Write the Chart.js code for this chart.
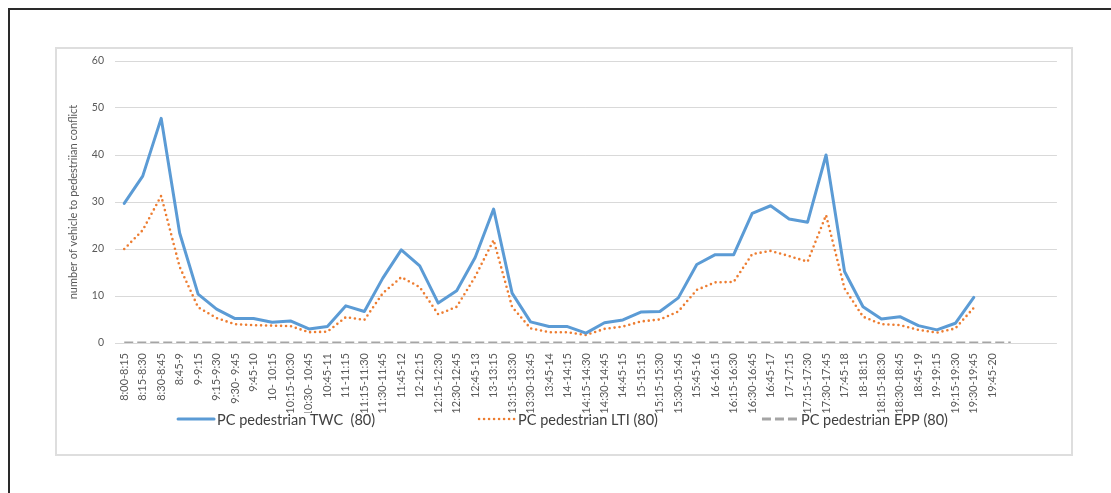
<!DOCTYPE html>
<html>
<head>
<meta charset="utf-8">
<script src="https://cdn.jsdelivr.net/npm/chart.js@4.4.1/dist/chart.umd.min.js"></script>
<style>
  html, body { margin: 0; padding: 0; background: #fff; width: 1111px; height: 493px; overflow: hidden; }
  #frame { position: absolute; left: 8px; top: 8px; right: -4px; bottom: -4px; border-left: 2px solid #2a2a2a; border-top: 2px solid #2a2a2a; }
  #box { position: absolute; left: 55px; top: 47px; width: 1014px; height: 405px; border: 2px solid #dedede; background: #fff; }
  #wrap { position: absolute; left: 0; top: 0; width: 1014px; height: 405px; }
</style>
</head>
<body>
<div id="frame"></div>
<div id="box"><div id="wrap"><canvas id="c"></canvas></div></div>
<script>
// Quarter-hour intervals from 8:00 to 20:00
const timeSlots = [
  '8:00-8:15', '8:15-8:30', '8:30-8:45', '8:45-9', '9-9:15', '9:15-9:30', '9:30- 9:45', '9:45-10',
  '10- 10:15', '10:15-10:30', '10:30- 10:45', '10:45-11', '11-11:15', '11:15-11:30', '11:30-11:45', '11:45-12',
  '12-12:15', '12:15-12:30', '12:30-12:45', '12:45-13', '13-13:15', '13:15-13:30', '13:30-13:45', '13:45-14',
  '14-14:15', '14:15-14:30', '14:30-14:45', '14:45-15', '15-15:15', '15:15-15:30', '15:30-15:45', '15:45-16',
  '16-16:15', '16:15-16:30', '16:30-16:45', '16:45-17', '17-17:15', '17:15-17:30', '17:30-17:45', '17:45-18',
  '18-18:15', '18:15-18:30', '18:30-18:45', '18:45-19', '19-19:15', '19:15-19:30', '19:30-19:45', '19:45-20'
];
// Unlabelled slots that pad the end of the category axis
const blankSlots = ['', '', ''];

// Vehicle-to-pedestrian conflicts per interval
const twcValues = [
  29.7, 35.5, 47.8, 23.4, 10.4, 7.2, 5.2, 5.2,
  4.4, 4.7, 3.0, 3.5, 7.9, 6.7, 13.8, 19.8,
  16.4, 8.5, 11.1, 18.2, 28.5, 10.6, 4.5, 3.5,
  3.5, 2.1, 4.3, 4.9, 6.6, 6.7, 9.6, 16.7,
  18.8, 18.8, 27.6, 29.2, 26.4, 25.7, 40.0, 15.2,
  7.7, 5.1, 5.6, 3.7, 2.8, 4.2, 9.7, null
];
const ltiValues = [
  20.0, 24.0, 31.3, 16.2, 7.6, 5.3, 4.0, 3.8,
  3.7, 3.6, 2.3, 2.4, 5.5, 4.9, 10.6, 14.0,
  11.9, 6.1, 7.7, 14.1, 21.9, 7.7, 3.1, 2.3,
  2.3, 1.7, 3.0, 3.5, 4.6, 5.0, 6.7, 11.3,
  12.9, 13.0, 18.9, 19.6, 18.5, 17.3, 27.2, 11.6,
  5.6, 4.0, 3.8, 2.8, 2.2, 3.1, 7.5, null
];
const eppValues = [
  0, 0, 0, 0, 0, 0, 0, 0, 0, 0, 0, 0, 0, 0, 0, 0,
  0, 0, 0, 0, 0, 0, 0, 0, 0, 0, 0, 0, 0, 0, 0, 0,
  0, 0, 0, 0, 0, 0, 0, 0, 0, 0, 0, 0, 0, 0, 0, 0, 0
];
const yTicks = [0, 10, 20, 30, 40, 50, 60];

const seriesNames = ['PC pedestrian TWC  (80)', 'PC pedestrian LTI (80)', 'PC pedestrian EPP (80)'];
const yAxisTitle = 'number of vehicle to pedestriian conflict';

const FONT = 'Lato, "Liberation Sans", sans-serif';

// Vertical axis title, centred on the plot area
const axisTitle = {
  id: 'axisTitle',
  afterDraw(chart) {
    const ctx = chart.ctx;
    const a = chart.chartArea;
    ctx.save();
    ctx.translate(16, (a.top + a.bottom) / 2);
    ctx.rotate(-Math.PI / 2);
    ctx.font = '11px ' + FONT;
    ctx.fillStyle = '#595959';
    ctx.textAlign = 'center';
    ctx.textBaseline = 'middle';
    ctx.fillText(yAxisTitle, 0, 0);
    ctx.restore();
  }
};

// Legend drawn as line samples beside each series name
const lineLegend = {
  id: 'lineLegend',
  afterDraw(chart) {
    const ctx = chart.ctx;
    const sampleW = 36, textGap = 3, itemGap = 104;
    const y = chart.chartArea.bottom + 76;
    ctx.save();
    ctx.font = '14.5px ' + FONT;
    ctx.textBaseline = 'middle';
    ctx.textAlign = 'left';
    const items = chart.data.datasets.map(ds => ({ ds, tw: ctx.measureText(ds.label).width }));
    const total = items.reduce((s, it) => s + sampleW + textGap + it.tw, 0) + itemGap * (items.length - 1);
    let x = chart.width / 2 - total / 2 - 1;
    items.forEach(({ ds, tw }) => {
      ctx.save();
      ctx.strokeStyle = ds.borderColor;
      ctx.lineWidth = ds.borderWidth;
      ctx.lineCap = ds.borderCapStyle || 'butt';
      ctx.setLineDash(ds.borderDash || []);
      ctx.beginPath();
      ctx.moveTo(x, y);
      ctx.lineTo(x + sampleW, y);
      ctx.stroke();
      ctx.restore();
      ctx.fillStyle = '#404040';
      ctx.fillText(ds.label, x + sampleW + textGap, y + 1);
      x += sampleW + textGap + tw + itemGap;
    });
    ctx.restore();
  }
};

function drawChart() {
  new Chart(document.getElementById('c'), {
    type: 'line',
    data: {
      labels: timeSlots.concat(blankSlots),
      datasets: [
        {
          label: seriesNames[0], data: twcValues,
          borderColor: '#5b9bd5', borderWidth: 3, borderCapStyle: 'round', borderJoinStyle: 'round',
          pointRadius: 0, tension: 0, fill: false
        },
        {
          label: seriesNames[1], data: ltiValues,
          borderColor: '#ed7d31', borderWidth: 2.6, borderDash: [0, 5], borderCapStyle: 'round', borderJoinStyle: 'round',
          pointRadius: 0, tension: 0, fill: false
        },
        {
          label: seriesNames[2], data: eppValues,
          borderColor: '#a5a5a5', borderWidth: 3, borderDash: [9, 4], borderCapStyle: 'butt',
          pointRadius: 0, tension: 0, fill: false
        }
      ]
    },
    options: {
      responsive: true,
      maintainAspectRatio: false,
      animation: false,
      layout: { padding: { left: 0, right: 12, top: 12, bottom: 41 } },
      plugins: { legend: { display: false }, tooltip: { enabled: false } },
      scales: {
        x: {
          type: 'category',
          offset: true,
          grid: { display: false, drawTicks: false },
          border: { display: false },
          ticks: {
            autoSkip: false, minRotation: 90, maxRotation: 90, padding: 10,
            color: '#595959', font: { family: FONT, size: 11 }
          },
          afterFit(scale) { scale.height = 70; }
        },
        y: {
          min: 0, max: 60,
          afterBuildTicks(scale) { scale.ticks = yTicks.map(v => ({ value: v })); },
          grid: { color: '#d9d9d9', lineWidth: 1, drawTicks: false },
          border: { display: false },
          ticks: { padding: 11, color: '#595959', font: { family: FONT, size: 10.5 } },
          afterFit(scale) {
            scale.width = 58;
            scale.paddingTop = 0;
            scale.paddingBottom = 0;
          }
        }
      }
    },
    plugins: [axisTitle, lineLegend]
  });
}

const fontReady = document.fonts && document.fonts.load
  ? Promise.all(['10px Lato', '11px Lato', '14.5px Lato'].map(f => document.fonts.load(f))).catch(() => {})
  : Promise.resolve();
fontReady.then(drawChart);
</script>
</body>
</html>
